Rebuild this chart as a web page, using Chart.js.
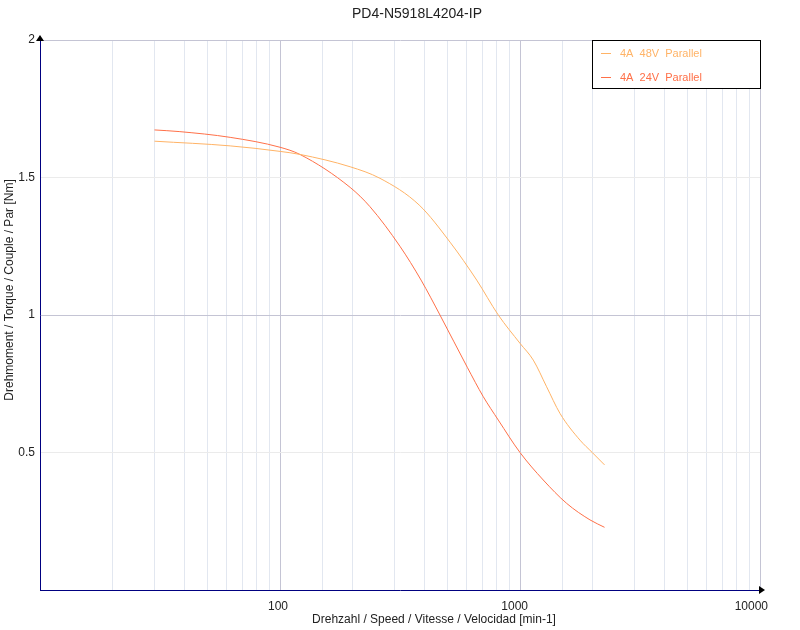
<!DOCTYPE html>
<html>
<head>
<meta charset="utf-8">
<script src="https://cdn.jsdelivr.net/npm/chart.js@4.4.1/dist/chart.umd.min.js"></script>
<style>
  html, body { margin: 0; padding: 0; background: #fff; }
  #wrap { width: 800px; height: 630px; }
</style>
</head>
<body>
<div id="wrap"><canvas id="torqueChart" width="800" height="630"></canvas></div>
<script>
const chartTitle = 'PD4-N5918L4204-IP';
const xTitle = 'Drehzahl / Speed / Vitesse / Velocidad [min-1]';
const yTitle = 'Drehmoment / Torque / Couple / Par [Nm]';
const labels = ['4A  48V  Parallel', '4A  24V  Parallel'];
const colors = ['#ffb366', '#ff7048'];

// speed [min-1] / torque [Nm]
const speed48 = [30, 62, 100, 121, 196, 261, 380, 511, 660, 812, 1000, 1136, 1291, 1468, 1778, 2000, 2250];
const torque48 = [1.632, 1.615, 1.595, 1.584, 1.539, 1.497, 1.40, 1.265, 1.127, 1.0, 0.897, 0.836, 0.739, 0.642, 0.545, 0.5, 0.455];
const speed24 = [30, 38, 62, 100, 121, 196, 237, 316, 387, 464, 603, 703, 812, 1000, 1250, 1565, 1957, 2250];
const torque24 = [1.673, 1.667, 1.646, 1.61, 1.584, 1.464, 1.394, 1.25, 1.127, 1.0, 0.81, 0.703, 0.618, 0.5, 0.4, 0.315, 0.255, 0.228];

const xLabels = [100, 1000, 10000];
const yLabels = [0.5, 1, 1.5, 2];

const toPoints = (xs, ys) => xs.map((x, i) => ({ x: x, y: ys[i] }));

const isDecade = v => Math.abs(Math.log10(v) - Math.round(Math.log10(v))) < 1e-6;

const fontFamily = '"Liberation Sans", Arial, sans-serif';

const extras = {
    id: 'extras',
    afterDraw(chart) {
        const ctx = chart.ctx;
        const a = chart.chartArea;
        ctx.save();

        // titles
        ctx.fillStyle = '#222';
        ctx.font = '14px ' + fontFamily;
        ctx.textAlign = 'center';
        ctx.textBaseline = 'middle';
        ctx.fillText(chartTitle, 417, 14);

        ctx.font = '12px ' + fontFamily;
        ctx.fillText(xTitle, 434, 620);
        ctx.save();
        ctx.translate(10, 290);
        ctx.rotate(-Math.PI / 2);
        ctx.fillText(yTitle, 0, 0);
        ctx.restore();

        // axis arrows
        ctx.fillStyle = '#000';
        ctx.beginPath();
        ctx.moveTo(a.left, a.top - 5);
        ctx.lineTo(a.left - 4, a.top + 1);
        ctx.lineTo(a.left + 4, a.top + 1);
        ctx.closePath();
        ctx.fill();
        ctx.beginPath();
        ctx.moveTo(a.right + 5, a.bottom);
        ctx.lineTo(a.right - 1, a.bottom - 4);
        ctx.lineTo(a.right - 1, a.bottom + 4);
        ctx.closePath();
        ctx.fill();

        // legend box
        const bx = 592, by = 40, bw = 168, bh = 48;
        ctx.fillStyle = '#fff';
        ctx.fillRect(bx, by, bw, bh);
        ctx.strokeStyle = '#000';
        ctx.lineWidth = 1;
        ctx.strokeRect(bx + 0.5, by + 0.5, bw, bh);
        ctx.font = '11px ' + fontFamily;
        ctx.textAlign = 'left';
        chart.data.datasets.forEach((ds, i) => {
            const y = by + 13 + i * 24;
            ctx.strokeStyle = ds.borderColor;
            ctx.beginPath();
            ctx.moveTo(bx + 9, y + 0.5);
            ctx.lineTo(bx + 19, y + 0.5);
            ctx.stroke();
            ctx.fillStyle = ds.borderColor;
            ctx.fillText(ds.label, bx + 28, y + 1);
        });
        ctx.restore();
    }
};

const ctxTorque = document.getElementById('torqueChart').getContext('2d');
const torqueChart = new Chart(ctxTorque, {
    type: 'line',
    data: {
        datasets: [{
            label: labels[0],
            data: toPoints(speed48, torque48),
            borderColor: colors[0],
            borderWidth: 1,
            pointRadius: 0,
            cubicInterpolationMode: 'monotone',
            fill: false
        }, {
            label: labels[1],
            data: toPoints(speed24, torque24),
            borderColor: colors[1],
            borderWidth: 1,
            pointRadius: 0,
            cubicInterpolationMode: 'monotone',
            fill: false
        }]
    },
    options: {
        responsive: false,
        animation: false,
        layout: { padding: { top: 40, right: 40, left: 0, bottom: 0 } },
        scales: {
            x: {
                type: 'logarithmic',
                min: 10,
                max: 10000,
                afterFit: s => { s.height = 40; },
                border: { color: '#000080', width: 1 },
                grid: {
                    drawTicks: false,
                    color: c => isDecade(c.tick.value) ? '#c4c4d4' : '#e2e7f0'
                },
                ticks: {
                    autoSkip: false,
                    maxRotation: 0,
                    padding: 9,
                    align: 'end',
                    labelOffset: 8,
                    color: '#222',
                    font: { family: fontFamily, size: 12 },
                    callback: v => xLabels.includes(v) ? String(v) : ''
                }
            },
            y: {
                min: 0,
                max: 2,
                afterFit: s => { s.width = 40; },
                border: { color: '#000080', width: 1 },
                grid: {
                    drawTicks: false,
                    color: c => (c.tick.value === 1 || c.tick.value === 2) ? '#c4c4d4' : '#ebebeb'
                },
                ticks: {
                    stepSize: 0.5,
                    padding: 5,
                    color: '#222',
                    font: { family: fontFamily, size: 12 },
                    callback: v => yLabels.includes(v) ? String(v) : ''
                }
            }
        },
        plugins: {
            legend: { display: false },
            title: { display: false },
            tooltip: { enabled: false }
        }
    },
    plugins: [extras]
});
</script>
</body>
</html>
